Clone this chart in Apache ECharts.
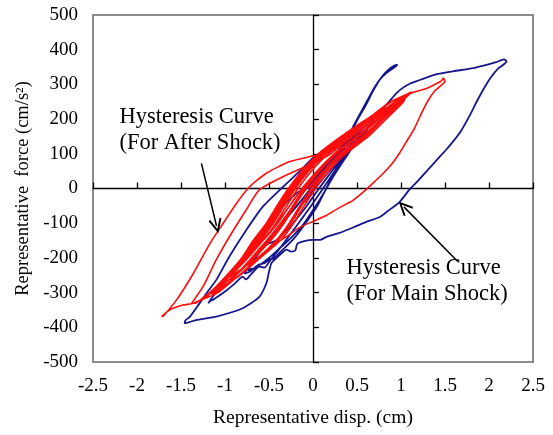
<!DOCTYPE html>
<html>
<head>
<meta charset="utf-8">
<script src="https://cdn.jsdelivr.net/npm/echarts@6/dist/echarts.min.js"></script>
<style>html,body{margin:0;padding:0;background:#fff}#c{width:553px;height:435px}</style>
</head>
<body>
<div id="c"></div>
<script>
// ---- data (displacement cm, force cm/s^2) ----
var xTicks = [-2.5, -2, -1.5, -1, -0.5, 0, 0.5, 1, 1.5, 2, 2.5];
var yTicks = [-500, -400, -300, -200, -100, 0, 100, 200, 300, 400, 500];

var mainShock = [
[-0.1,-40],[0.05,10],[0.2,55],[0.35,100],[0.5,140],[0.42,125],[0.25,80],[0.08,30],[-0.08,-20],[-0.24,-65],[-0.38,-110],[-0.52,-160],[-0.42,-150],[-0.26,-110],[-0.1,-60],[0.04,-10],[0.17,35],[0.32,85],[0.47,130],[0.62,170],[0.52,160],[0.36,120],[0.2,70],[0.02,15],[-0.15,-40],[-0.33,-95],[-0.5,-150],[-0.66,-200],[-0.78,-245],[-0.72,-240],[-0.62,-220],[-0.55,-215],[-0.5,-205],[-0.44,-200],[-0.38,-185],[-0.22,-145],[-0.07,-95],[0.05,-50],[0.14,-5],[0.23,40],[0.3,80],
[0.36,120],[0.43,160],[0.52,205],[0.6,240],[0.68,280],[0.77,318],[0.86,343],[0.93,355],[0.96,357],[0.93,350],[0.86,338],[0.78,320],[0.7,292],[0.62,255],[0.54,218],[0.46,180],[0.4,150],[0.3,112],[0.18,75],[0.05,40],[-0.1,0],[-0.19,-14],[-0.42,-72],[-0.64,-148],[-0.83,-216],[-1.02,-273],[-1.12,-305],[-1.19,-331],[-1.17,-324],[-1.14,-321],[-0.98,-293],[-0.88,-272],[-0.8,-254],[-0.76,-262],[-0.7,-246],[-0.61,-225],[-0.55,-228],[-0.5,-212],[-0.4,-180],[-0.28,-140],[-0.15,-95],[-0.02,-50],[0.1,-5],[0.22,40],[0.35,90],[0.5,140],[0.65,185],[0.78,225],[0.88,255],[0.95,275],
[1.02,290],[1.1,302],[1.25,316],[1.42,330],[1.6,338],[1.8,346],[1.95,355],[2.08,364],[2.17,372],[2.2,366],[2.17,358],[2.1,345],[2.02,320],[1.95,292],[1.87,255],[1.78,210],[1.68,165],[1.6,138],[1.5,108],[1.42,86],[1.3,52],[1.2,24],[1.1,-2],[0.98,-40],[0.85,-65],[0.76,-82],[0.6,-97],[0.45,-113],[0.3,-128],[0.15,-140],[0.08,-148],[0,-148],[-0.1,-152],[-0.18,-160],[-0.2,-178],[-0.25,-182],[-0.3,-176],[-0.38,-192],[-0.47,-214],[-0.5,-240],[-0.53,-273],[-0.61,-312],[-0.8,-345],[-1.1,-369],[-1.33,-379],[-1.46,-389],[-1.45,-380],[-1.4,-370],[-1.29,-331],[-1.2,-298],[-1.1,-264],[-0.95,-196],[-0.76,-120],[-0.57,-52],[-0.34,5],[-0.15,50],[0,88],[0.12,110],[0.25,135],[0.4,155],[0.55,170],[0.62,185],
[0.52,165],[0.36,128],[0.2,85],[0.05,40],[-0.09,-5],[-0.22,-50],[-0.35,-95],[-0.5,-145],[-0.64,-195],[-0.74,-235],[-0.65,-228],[-0.5,-200],[-0.37,-170],[-0.24,-140],[-0.1,-100],[0.02,-55],[0.13,-10],[0.22,30],[0.32,70],[0.44,115],[0.57,155],[0.48,145],[0.28,100],[0.1,50],[-0.05,0]
];

var afterShock = [
[-0.05,0],[0.1,45],[0.3,100],[0.56,150],[0.78,200],[0.99,250],[1.1,275],
[0.89,250],[0.64,200],[0.36,150],[0.1,100],[-0.09,50],[-0.24,0],[-0.37,-50],[-0.49,-100],[-0.64,-150],[-0.78,-200],[-0.96,-250],[-1.16,-300],[-1.18,-305],
[-0.83,-250],[-0.6,-200],[-0.37,-150],[-0.22,-100],[-0.1,-50],[0.03,0],[0.18,50],[0.37,100],[0.63,150],[0.83,200],[1.03,250],[1.05,265],
[0.66,200],[0.4,150],[0.14,100],[-0.05,50],[-0.2,0],[-0.33,-50],[-0.45,-100],[-0.6,-150],[-0.76,-200],[-0.94,-250],[-1.05,-280],
[-0.88,-250],[-0.67,-200],[-0.48,-150],[-0.33,-100],[-0.21,-50],[-0.08,0],[0.07,50],[0.26,100],[0.52,150],[0.75,200],[0.98,252],
[0.61,200],[0.32,150],[0.06,100],[-0.13,50],[-0.28,0],[-0.41,-50],[-0.53,-100],[-0.68,-150],[-0.81,-200],[-0.98,-250],[-1.17,-300],[-1.28,-322],
[-1.08,-300],[-0.84,-250],[-0.62,-200],[-0.4,-150],[-0.25,-100],[-0.13,-50],[0.0,0],[0.15,50],[0.34,100],[0.6,150],[0.8,200],[1.01,250],[1.12,278],
[0.93,250],[0.69,200],[0.43,150],[0.17,100],[-0.02,50],[-0.17,0],[-0.3,-50],[-0.42,-100],[-0.57,-150],[-0.74,-200],[-0.95,-255],
[-0.63,-200],[-0.42,-150],[-0.27,-100],[-0.15,-50],[-0.02,0],[0.13,50],[0.32,100],[0.58,150],[0.79,200],[0.9,235],
[0.65,200],[0.38,150],[0.12,100],[-0.07,50],[-0.22,0],[-0.35,-50],[-0.47,-100],[-0.62,-150],[-0.77,-200],[-0.95,-250],[-1.12,-292],
[-0.89,-250],[-0.69,-200],[-0.5,-150],[-0.35,-100],[-0.23,-50],[-0.1,0],[0.05,50],[0.24,100],[0.5,150],[0.73,200],[0.96,250],[1.08,270],
[1.15,278],[1.25,285],[1.32,292],[1.4,302],[1.46,310],[1.48,318],[1.5,308],[1.45,296],[1.38,280],[1.3,250],[1.22,210],[1.15,172],[1.05,130],[0.98,101],[0.9,72],[0.8,44],[0.7,20],[0.6,-4],[0.45,-35],[0.3,-55],[0.15,-78],[0,-95],[-0.15,-112],[-0.28,-135],[-0.4,-155],[-0.55,-185],[-0.72,-225],[-0.9,-262],[-1.05,-290],[-1.15,-305],[-1.08,-298],[-0.92,-262],[-0.75,-215],[-0.58,-165],[-0.42,-118],[-0.28,-70],[-0.15,-25],[-0.02,20],[0.12,62],[0.3,108],[0.55,158],[0.78,208],[0.98,255],[1.12,278],[1.02,262],[0.85,230],[0.65,190],[0.45,150],[0.25,115],
[0.12,100],[0,94],[-0.27,77],[-0.53,44],[-0.72,5],[-0.87,-43],[-1.02,-100],[-1.17,-158],[-1.36,-245],[-1.55,-321],[-1.7,-367],[-1.72,-369],[-1.63,-350],[-1.48,-336],[-1.36,-331],[-1.21,-312],[-1.1,-283],[-0.95,-245],[-0.8,-205],[-0.62,-160],[-0.46,-115],[-0.32,-70],[-0.2,-25],[-0.06,20],[0.08,60],[0.25,102],[0.48,148],[0.72,198],[0.95,248],[1.1,276],[1.0,262],[0.8,222],[0.6,182],[0.4,140],[0.2,100],
[0.1,85],[-0.04,68],[-0.34,34],[-0.61,-4],[-0.76,-62],[-0.95,-139],[-1.1,-206],[-1.25,-283],[-1.38,-331],[-1.33,-330],[-1.2,-305],[-1.05,-272],[-0.9,-235],[-0.72,-190],[-0.55,-145],[-0.4,-100],[-0.28,-55],[-0.15,-10],[0,35],[0.15,75],[0.35,118],[0.6,168],[0.82,215],[1.0,255],[1.1,272],
[0.88,250],[0.62,200],[0.34,150],[0.08,100],[-0.11,50],[-0.26,0],[-0.39,-50],[-0.51,-100],[-0.66,-150],[-0.8,-200],[-0.9,-232]
];

// annotations (data coordinates)
var noteAfter = {text: 'Hysteresis Curve\n(For After Shock)', at: [-2.2, 167]};
var noteMain = {text: 'Hysteresis Curve\n(For Main Shock)', at: [0.38, -268]};
var arrowAfter = [[-1.268, 72.6], [-1.096, -108]];
var arrowMain = [[1.648, -211], [1.033, -53]];

var FONT = 'Liberation Serif';
var chevron = 'path://M50,0 L100,80 L88,88 L50,26 L12,88 L0,80 Z';

var chart = echarts.init(document.getElementById('c'), null, {renderer: 'canvas'});
var baseX = {type: 'value', min: xTicks[0], max: xTicks[xTicks.length - 1], interval: 0.5};
var baseY = {type: 'value', min: yTicks[0], max: yTicks[yTicks.length - 1], interval: 100};

chart.setOption({
  animation: false,
  backgroundColor: '#fff',
  grid: {left: 93, right: 20, top: 15, bottom: 73, show: true, borderColor: '#8c8c8c', borderWidth: 2, backgroundColor: 'transparent'},
  xAxis: [
    Object.assign({}, baseX, {
      position: 'bottom',
      axisLine: {show: false, onZero: false}, axisTick: {show: false}, splitLine: {show: false},
      axisLabel: {color: '#000', fontFamily: FONT, fontSize: 19, margin: 15},
      name: 'Representative disp. (cm)', nameLocation: 'middle', nameGap: 46,
      nameTextStyle: {color: '#000', fontFamily: FONT, fontSize: 19.5}
    }),
    Object.assign({}, baseX, {
      position: 'bottom',
      axisLine: {show: true, onZero: true, onZeroAxisIndex: 0, lineStyle: {color: '#000', width: 1.3}},
      axisTick: {show: true, inside: true, length: 6, lineStyle: {color: '#000', width: 1.3}},
      axisLabel: {show: false}, splitLine: {show: false}
    })
  ],
  yAxis: [
    Object.assign({}, baseY, {
      position: 'left',
      axisLine: {show: false, onZero: false}, axisTick: {show: false}, splitLine: {show: false},
      axisLabel: {color: '#000', fontFamily: FONT, fontSize: 19, margin: 15},
      name: 'Representative  force (cm/s\u00B2)', nameLocation: 'middle', nameGap: 57,
      nameTextStyle: {color: '#000', fontFamily: FONT, fontSize: 18.5}
    }),
    Object.assign({}, baseY, {
      position: 'left',
      axisLine: {show: true, onZero: true, onZeroAxisIndex: 0, lineStyle: {color: '#000', width: 1.3}},
      axisTick: {show: true, inside: true, length: 6, lineStyle: {color: '#000', width: 1.3}},
      axisLabel: {show: false}, splitLine: {show: false}
    })
  ],
  series: [
    {
      name: 'Main Shock', type: 'line', xAxisIndex: 0, yAxisIndex: 0,
      data: mainShock, showSymbol: false, smooth: 0.2,
      lineStyle: {color: '#16168c', width: 1.8}, itemStyle: {color: '#16168c'}, silent: true
    },
    {
      name: 'After Shock', type: 'line', xAxisIndex: 0, yAxisIndex: 0,
      data: afterShock, showSymbol: false, smooth: 0.2,
      lineStyle: {color: '#ff0d0d', width: 1.6}, itemStyle: {color: '#ff0d0d'}, silent: true
    },
    {
      name: 'notes', type: 'line', xAxisIndex: 0, yAxisIndex: 0, data: [], silent: true,
      markLine: {
        silent: true, animation: false,
        symbol: ['none', chevron], symbolSize: [13, 15],
        label: {show: false},
        lineStyle: {color: '#000', width: 1.5, type: 'solid'},
        itemStyle: {color: '#000'},
        data: [
          [{coord: arrowAfter[0]}, {coord: arrowAfter[1]}],
          [{coord: arrowMain[0]}, {coord: arrowMain[1]}]
        ]
      },
      markPoint: {
        silent: true, animation: false, symbol: 'circle', symbolSize: 0,
        label: {show: true, position: 'inside', align: 'left', verticalAlign: 'middle',
                color: '#000', fontFamily: FONT, fontSize: 22.5, lineHeight: 26,
                formatter: function (p) { return p.name; }},
        data: [
          {name: noteAfter.text, coord: noteAfter.at},
          {name: noteMain.text, coord: noteMain.at}
        ]
      }
    }
  ]
});
</script>
</body>
</html>
